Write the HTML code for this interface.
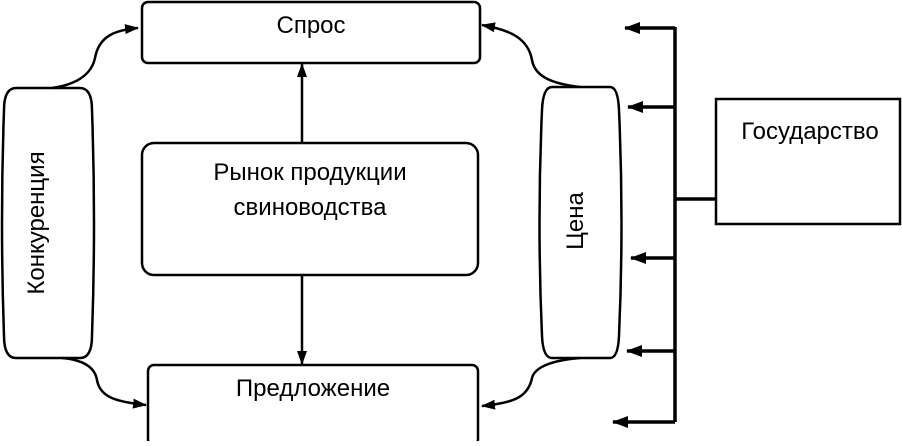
<!DOCTYPE html>
<html><head><meta charset="utf-8"><style>
html,body{margin:0;padding:0;background:#fff;}
</style></head><body>
<svg width="902" height="441" viewBox="0 0 902 441" xmlns="http://www.w3.org/2000/svg">
<defs>
<marker id="a" markerWidth="14" markerHeight="10" refX="13" refY="5" orient="auto" markerUnits="userSpaceOnUse">
<path d="M0,0 L14,5 L0,10 Z" fill="#000"/></marker>
<marker id="b" markerWidth="16" markerHeight="12" refX="15" refY="6" orient="auto" markerUnits="userSpaceOnUse">
<path d="M0,0 L16,6 L0,12 Z" fill="#000"/></marker>
</defs>
<g fill="none" stroke="#000" stroke-width="2.5">
<rect x="142" y="2" width="338" height="61" rx="6"/>
<rect x="142" y="143" width="336" height="132" rx="12"/>
<rect x="148" y="365" width="330" height="80" rx="6"/>
<rect x="716" y="99" width="184" height="125"/>
<path d="M16,88 L80,88 Q92,88 92,110 Q96,223 92,336 Q92,358 80,358 L16,358 Q4,358 4,336 Q0,223 4,110 Q4,88 16,88 Z"/>
<path d="M552,87 L610,87 Q618,87 619,110 Q624,223 619,336 Q618,358 610,358 L552,358 Q543,358 542,336 Q537,223 542,110 Q543,87 552,87 Z"/>
<path d="M52,88 C80,84 92,72 95,58 C99,36 115,30 138,28" marker-end="url(#a)"/>
<path d="M62,358 C85,360 95,368 97,380 C100,398 118,402 146,405" marker-end="url(#a)"/>
<path d="M580,87 C555,84 535,78 532,60 C528,38 510,30 482,25" marker-end="url(#a)"/>
<path d="M580,358 C555,360 535,366 532,378 C528,398 512,403 482,406" marker-end="url(#a)"/>
<path d="M302,143 L302,64" marker-end="url(#a)"/>
<path d="M302,275 L302,364" marker-end="url(#a)"/>
<g stroke-width="3.5">
<path d="M675,27 L675,422"/>
<path d="M675,199 L716,199"/>
<path d="M675,28 L625,28" marker-end="url(#b)"/>
<path d="M675,107 L628,107" marker-end="url(#b)"/>
<path d="M675,258 L631,258" marker-end="url(#b)"/>
<path d="M675,351 L627,351" marker-end="url(#b)"/>
<path d="M675,422 L613,422" marker-end="url(#b)"/>
</g>
</g>
<g font-family="Liberation Sans, sans-serif" font-size="24" fill="#000">
<text x="311" y="33" text-anchor="middle">Спрос</text>
<text x="310" y="180" text-anchor="middle">Рынок продукции</text>
<text x="310" y="215" text-anchor="middle">свиноводства</text>
<text x="313" y="396" text-anchor="middle">Предложение</text>
<text x="810" y="139" text-anchor="middle">Государство</text>
<text transform="translate(44,223) rotate(-90)" text-anchor="middle">Конкуренция</text>
<text transform="translate(583,221) rotate(-90)" text-anchor="middle">Цена</text>
</g>
</svg>
</body></html>
